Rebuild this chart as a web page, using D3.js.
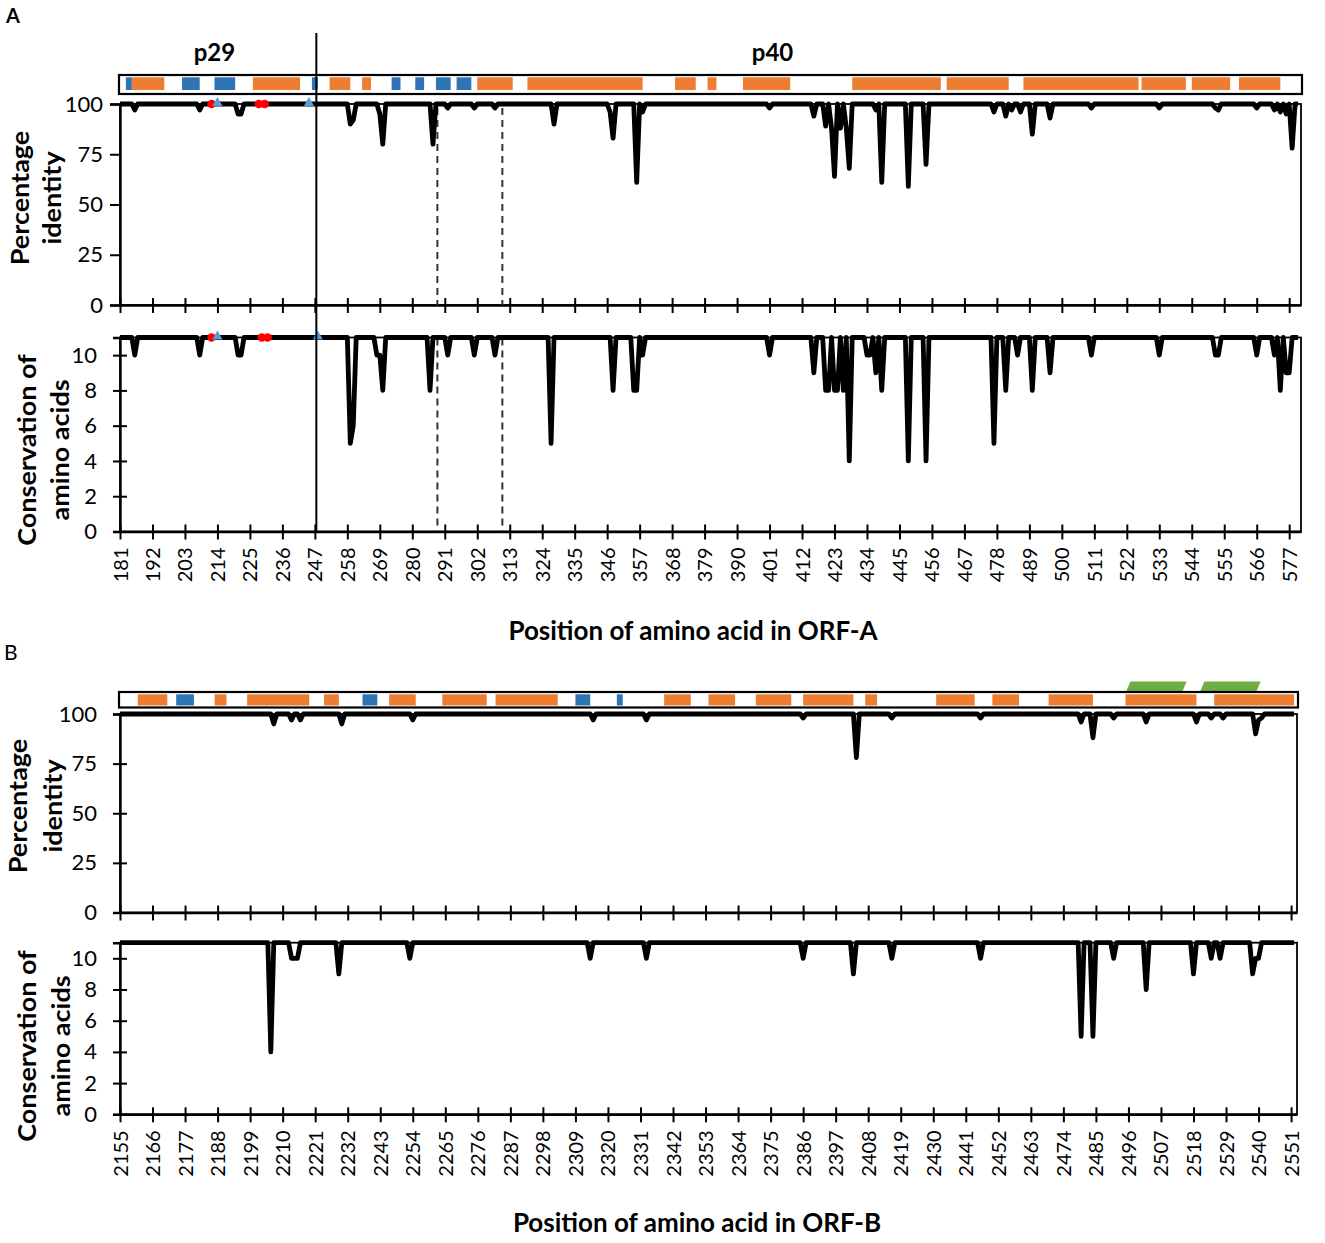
<!DOCTYPE html>
<html>
<head>
<meta charset="utf-8">
<title>ORF-A / ORF-B identity and conservation</title>
<script src="https://cdn.jsdelivr.net/npm/d3@7/dist/d3.min.js"></script>
<style>
  body { margin: 0; background: #fff; }
  text { font-family: Lato, "Open Sans", sans-serif; }
</style>
</head>
<body>
<div id="chart"></div>
<script>
// ---- data ----
const ticksA = [181, 192, 203, 214, 225, 236, 247, 258, 269, 280, 291, 302, 313, 324, 335, 346, 357, 368, 379,
  390, 401, 412, 423, 434, 445, 456, 467, 478, 489, 500, 511, 522, 533, 544, 555, 566, 577];
const ticksB = [2155, 2166, 2177, 2188, 2199, 2210, 2221, 2232, 2243, 2254, 2265, 2276, 2287, 2298, 2309, 2320,
  2331, 2342, 2353, 2364, 2375, 2386, 2397, 2408, 2419, 2430, 2441, 2452, 2463, 2474, 2485, 2496, 2507, 2518,
  2529, 2540, 2551];
const identityTicks = [0, 25, 50, 75, 100];
const conservationTicks = [0, 2, 4, 6, 8, 10];

// residues that fall below full identity (100) / full conservation (11)
const identityDipsA = [[186, 97], [208, 97], [221, 95], [222, 95], [259, 90], [260, 92], [269, 95], [270, 80],
  [287, 80], [292, 98], [301, 98], [308, 98], [328, 90], [347, 96], [348, 83], [356, 61], [358, 96], [401, 98],
  [416, 94], [420, 89], [422, 88], [423, 64], [425, 88], [427, 88], [428, 68],
  [437, 97], [439, 61], [448, 59], [454, 70], [477, 96], [481, 94], [483, 97], [486, 96], [490, 85], [496, 93],
  [510, 98], [533, 98], [552, 98], [553, 97], [566, 98], [572, 97], [574, 96], [576, 95], [578, 78]];
const conservationDipsA = [[186, 10], [208, 10], [221, 10], [222, 10], [259, 5], [260, 6], [268, 10], [269, 10],
  [270, 8], [286, 8], [292, 10], [301, 10], [308, 10], [327, 5], [348, 8], [355, 8], [356, 8], [358, 10],
  [401, 10], [416, 9], [420, 8], [421, 8], [423, 8], [424, 8], [426, 8], [428, 4],
  [434, 10], [435, 10], [437, 9], [439, 8], [448, 4], [454, 4], [477, 5], [481, 8],
  [485, 10], [490, 8], [496, 9], [510, 10], [533, 10], [552, 10], [553, 10], [566, 10], [572, 10], [574, 8],
  [576, 9], [577, 9]];
const identityDipsB = [[2207, 95], [2213, 97], [2216, 97], [2230, 95], [2254, 97], [2315, 97], [2333, 97],
  [2386, 98], [2404, 78], [2416, 98], [2446, 98], [2480, 96], [2484, 88], [2491, 98], [2502, 96], [2519, 96],
  [2524, 98], [2528, 98], [2539, 90], [2540, 97], [2541, 98]];
const conservationDipsB = [[2206, 4], [2213, 10], [2214, 10], [2215, 10], [2229, 9], [2253, 10], [2314, 10],
  [2333, 10], [2386, 10], [2403, 9], [2416, 10], [2446, 10], [2480, 5], [2484, 5], [2491, 10], [2502, 8],
  [2518, 9], [2524, 10], [2527, 10], [2538, 9], [2539, 10], [2540, 10]];

// annotation strip segments [start, end] in residues
const orangeA = [[185, 196], [226, 242], [252, 259], [263, 266], [302, 314], [319, 358], [369, 376], [380, 383],
  [392, 408], [429, 459], [461, 482], [487, 526], [527, 542], [544, 557], [560, 574]];
const blueA = [[183, 185], [202, 208], [213, 220], [246, 248], [273, 276], [281, 284], [288, 293], [295, 300]];
const orangeB = [[2161, 2171], [2187, 2191], [2198, 2219], [2224, 2229], [2246, 2255], [2264, 2279], [2282, 2303],
  [2339, 2348], [2354, 2363], [2370, 2382], [2386, 2403], [2407, 2411], [2431, 2444], [2450, 2459], [2469, 2484],
  [2495, 2519], [2525, 2552]];
const blueB = [[2174, 2180], [2237, 2242], [2309, 2314], [2323, 2325]];
const greenB = [[2496, 2515], [2521, 2540]];

// marked residues on the top line of ORF-A plots
const redMarksIdentityA = [212, 228, 230];
const blueMarksIdentityA = [214, 245];
const redMarksConservationA = [212, 229, 231];
const blueMarksConservationA = [214, 248];

const regionLabelsA = [["p29", 213], ["p40", 402]];
const cleavageA = 247.5;
const dashedA = [288.5, 310.5];

const colors = { orange: "#ED7D31", blue: "#2E75B6", green: "#70AD47", red: "#FF0000", tri: "#5B9BD5" };

const svg = d3.select("#chart").append("svg")
  .attr("width", 1325)
  .attr("height", 1243);

// residues not listed sit at the top of the scale
function fullSeries(start, end, dips, top) {
  const lookup = new Map(dips);
  return d3.range(start, end + 1).map(p => [p, lookup.has(p) ? lookup.get(p) : top]);
}

function drawPlot(x, y, o) {
  const [x0, x1] = x.range();
  const [yb, yt] = y.range();
  const g = svg.append("g");

  g.append("rect")
    .attr("x", x0).attr("y", yt)
    .attr("width", x1 - x0).attr("height", yb - yt)
    .attr("fill", "none").attr("stroke", "#000").attr("stroke-width", 1.8);

  // x axis with crossing ticks
  const xa = g.append("g")
    .attr("transform", `translate(0,${yb})`)
    .call(d3.axisBottom(x).tickValues(o.xTicks).tickSizeOuter(0)
      .tickFormat(o.xLabels ? d3.format("d") : () => ""));
  xa.select(".domain").attr("stroke-width", 2.4);
  xa.selectAll(".tick line").attr("y1", -7).attr("y2", 8).attr("stroke-width", 2);
  if (o.xLabels) {
    xa.selectAll(".tick text")
      .attr("transform", "rotate(-90)")
      .attr("text-anchor", "end")
      .attr("x", -16).attr("y", 0).attr("dy", "0.35em")
      .style("font-size", "20px");
  }

  // y axis
  const ya = g.append("g")
    .attr("transform", `translate(${x0},0)`)
    .call(d3.axisLeft(y).tickValues(o.yTicks).tickSizeOuter(0)
      .tickSize(o.crossY ? 7 : 10).tickPadding(o.crossY ? 16 : 7));
  ya.select(".domain").attr("stroke-width", 2.4);
  ya.selectAll(".tick line").attr("stroke-width", 2);
  if (o.crossY) ya.selectAll(".tick line").attr("x1", 7);
  ya.selectAll(".tick text").style("font-size", "22px");

  // dashed region lines
  (o.dashed || []).forEach(p => {
    g.append("line")
      .attr("x1", x(p)).attr("x2", x(p))
      .attr("y1", yt + o.dashTop).attr("y2", yb)
      .attr("stroke", "#333").attr("stroke-width", 2)
      .attr("stroke-dasharray", "7,5");
  });

  const line = d3.line().x(d => x(d[0])).y(d => y(d[1]));
  g.append("path")
    .datum(o.series)
    .attr("fill", "none")
    .attr("stroke", "#000")
    .attr("stroke-width", 4.8)
    .attr("stroke-linejoin", "round")
    .attr("d", line);

  const top = y.domain()[1];
  g.selectAll(".red").data(o.red || []).enter().append("circle")
    .attr("cx", d => x(d)).attr("cy", y(top)).attr("r", 4.2)
    .attr("fill", colors.red);
  g.selectAll(".tri").data(o.tri || []).enter().append("path")
    .attr("transform", d => `translate(${x(d)},${y(top) - 1})`)
    .attr("d", d3.symbol().type(d3.symbolTriangle).size(45))
    .attr("fill", colors.tri);

  // axis title, two rotated lines, a little wider than plain Lato
  o.title.forEach((t, i) => {
    g.append("text")
      .attr("transform", `translate(${o.titleX[i]},${o.titleY}) rotate(-90) scale(1.08,1)`)
      .attr("text-anchor", "middle")
      .style("font-size", "25px")
      .style("font-weight", "bold")
      .text(t);
  });
}

function drawStrip(x, box, blocks, blocksY) {
  const [x0, x1] = x.range();
  blocks.forEach(([segs, col]) => {
    svg.append("g").selectAll("rect").data(segs).enter().append("rect")
      .attr("x", d => x(d[0]))
      .attr("width", d => x(d[1]) - x(d[0]))
      .attr("y", blocksY[0])
      .attr("height", blocksY[1] - blocksY[0])
      .attr("fill", col);
  });
  svg.append("rect")
    .attr("x", x0 - 1).attr("y", box[0])
    .attr("width", x1 - x0 + 2).attr("height", box[1] - box[0])
    .attr("fill", "none").attr("stroke", "#000").attr("stroke-width", 2.2);
}

function xTitle(t, cx, by) {
  svg.append("text")
    .attr("x", cx).attr("y", by)
    .attr("text-anchor", "middle")
    .style("font-size", "26px")
    .style("font-weight", "bold")
    .text(t);
}

// ---------- panel A ----------
const xA = d3.scaleLinear().domain([181, 581]).range([120, 1301]);
const yIdA = d3.scaleLinear().domain([0, 100]).range([305, 104]);
const yConA = d3.scaleLinear().domain([0, 11]).range([531.5, 337.5]);

svg.append("text").attr("x", 6).attr("y", 23)
  .style("font-size", "20px").style("font-weight", "bold").text("A");

regionLabelsA.forEach(([t, p]) => {
  svg.append("text").attr("x", xA(p)).attr("y", 61)
    .attr("text-anchor", "middle")
    .style("font-size", "24px").style("font-weight", "bold")
    .text(t);
});

drawStrip(xA, [75, 94], [[orangeA, colors.orange], [blueA, colors.blue]], [77.3, 90]);

drawPlot(xA, yIdA, {
  xTicks: ticksA, xLabels: false, yTicks: identityTicks, crossY: false,
  series: fullSeries(181, 580, identityDipsA, 100),
  dashed: dashedA, dashTop: 4,
  red: redMarksIdentityA, tri: blueMarksIdentityA,
  title: ["Percentage", "identity"], titleX: [29, 61], titleY: 198
});

drawPlot(xA, yConA, {
  xTicks: ticksA, xLabels: true, yTicks: conservationTicks, crossY: true,
  series: fullSeries(181, 580, conservationDipsA, 11),
  dashed: dashedA, dashTop: 1,
  red: redMarksConservationA, tri: blueMarksConservationA,
  title: ["Conservation of", "amino acids"], titleX: [36, 69], titleY: 450
});

// p29 / p40 boundary
svg.append("line")
  .attr("x1", xA(cleavageA)).attr("x2", xA(cleavageA))
  .attr("y1", 33).attr("y2", yConA(0))
  .attr("stroke", "#000").attr("stroke-width", 2);

xTitle("Position of amino acid in ORF-A", 693, 640);

// ---------- panel B ----------
const xB = d3.scaleLinear().domain([2155, 2553]).range([120, 1297]);
const yIdB = d3.scaleLinear().domain([0, 100]).range([912.5, 714]);
const yConB = d3.scaleLinear().domain([0, 11]).range([1114.3, 942.7]);

svg.append("text").attr("x", 4).attr("y", 660)
  .style("font-size", "21px").text("B");

// green marks above the strip
svg.append("g").selectAll("polygon").data(greenB).enter().append("polygon")
  .attr("points", d => {
    const a = xB(d[0]), b = xB(d[1]);
    return `${a - 2},691 ${b - 2},691 ${b + 2},681.5 ${a + 2},681.5`;
  })
  .attr("fill", colors.green);

drawStrip(xB, [692, 707.5], [[orangeB, colors.orange], [blueB, colors.blue]], [694.3, 705.5]);

drawPlot(xB, yIdB, {
  xTicks: ticksB, xLabels: false, yTicks: identityTicks, crossY: true,
  series: fullSeries(2155, 2552, identityDipsB, 100),
  title: ["Percentage", "identity"], titleX: [27, 62], titleY: 806
});

drawPlot(xB, yConB, {
  xTicks: ticksB, xLabels: true, yTicks: conservationTicks, crossY: true,
  series: fullSeries(2155, 2552, conservationDipsB, 11),
  title: ["Conservation of", "amino acids"], titleX: [36, 70], titleY: 1046
});

xTitle("Position of amino acid in ORF-B", 697, 1232);
</script>
</body>
</html>
